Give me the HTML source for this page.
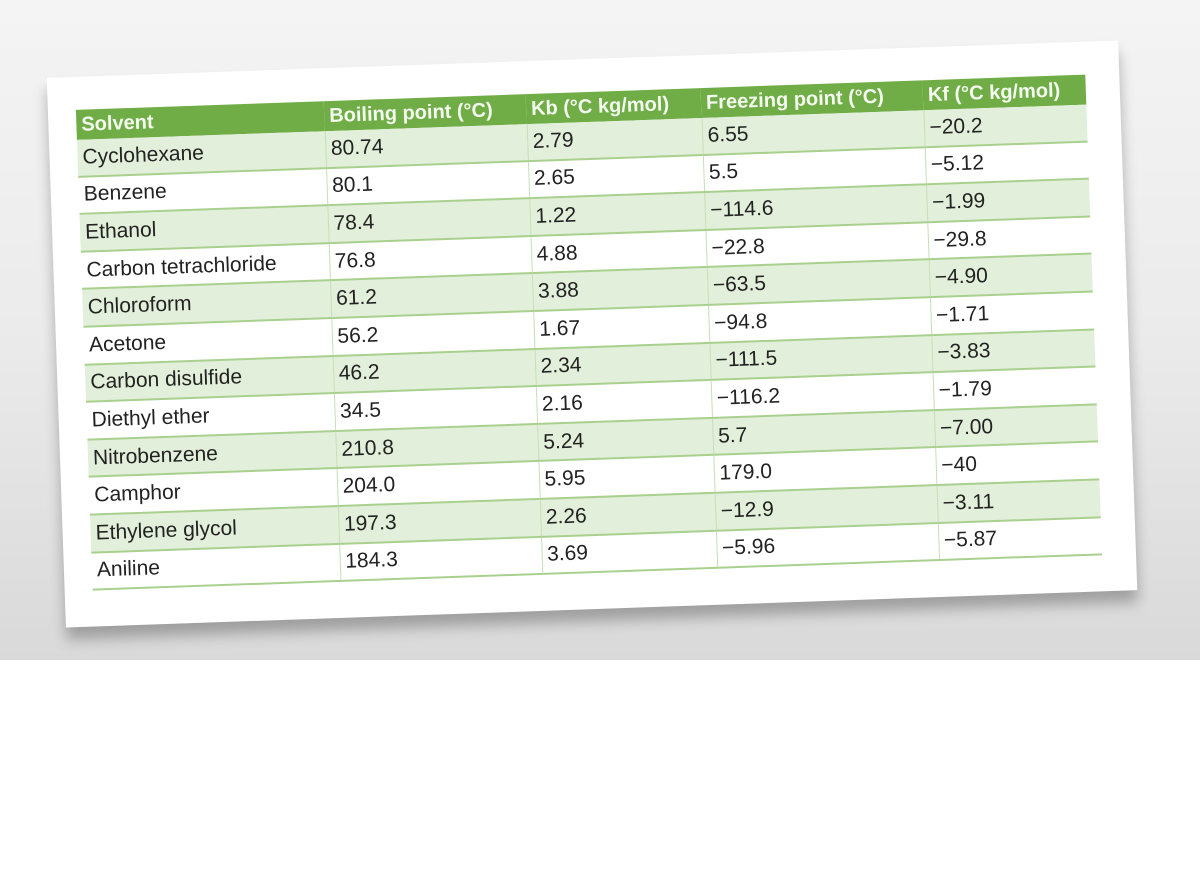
<!DOCTYPE html>
<html><head><meta charset="utf-8"><style>
html,body{margin:0;padding:0;width:1200px;height:881px;overflow:hidden;background:#fff;}
.bg{position:absolute;left:0;top:0;width:1200px;height:660px;background:linear-gradient(#f4f4f4 0%,#ebebeb 50%,#d9d9d9 100%);}
.card{position:absolute;left:56px;top:59px;width:1072px;height:550px;background:#fff;transform:rotate(-2deg);box-shadow:0 12px 14px rgba(0,0,0,0.28);}
table{position:absolute;left:28px;top:33px;border-collapse:collapse;font-family:"Liberation Sans",sans-serif;font-size:21px;color:#222;}
td{height:35.6px;padding:0 0 0 5px;border-bottom:2px solid #a9d08e;border-left:1px solid #c6dfb5;vertical-align:middle;}
td:first-child{border-left:none;}
tr.h td{background:#70ad47;color:#f4faef;font-weight:bold;height:30px;border:none;font-size:20px;}
tr.g td{background:#e2efda;}
</style></head><body>
<div class="bg"></div>
<div class="card">
<table>
<colgroup><col style="width:248px"><col style="width:202px"><col style="width:175px"><col style="width:222px"><col style="width:163px"></colgroup>
<tr class="h"><td>Solvent</td><td>Boiling point (°C)</td><td>Kb (°C kg/mol)</td><td>Freezing point (°C)</td><td>Kf (°C kg/mol)</td></tr>
<tr class="g"><td>Cyclohexane</td><td>80.74</td><td>2.79</td><td>6.55</td><td>−20.2</td></tr>
<tr><td>Benzene</td><td>80.1</td><td>2.65</td><td>5.5</td><td>−5.12</td></tr>
<tr class="g"><td>Ethanol</td><td>78.4</td><td>1.22</td><td>−114.6</td><td>−1.99</td></tr>
<tr><td>Carbon tetrachloride</td><td>76.8</td><td>4.88</td><td>−22.8</td><td>−29.8</td></tr>
<tr class="g"><td>Chloroform</td><td>61.2</td><td>3.88</td><td>−63.5</td><td>−4.90</td></tr>
<tr><td>Acetone</td><td>56.2</td><td>1.67</td><td>−94.8</td><td>−1.71</td></tr>
<tr class="g"><td>Carbon disulfide</td><td>46.2</td><td>2.34</td><td>−111.5</td><td>−3.83</td></tr>
<tr><td>Diethyl ether</td><td>34.5</td><td>2.16</td><td>−116.2</td><td>−1.79</td></tr>
<tr class="g"><td>Nitrobenzene</td><td>210.8</td><td>5.24</td><td>5.7</td><td>−7.00</td></tr>
<tr><td>Camphor</td><td>204.0</td><td>5.95</td><td>179.0</td><td>−40</td></tr>
<tr class="g"><td>Ethylene glycol</td><td>197.3</td><td>2.26</td><td>−12.9</td><td>−3.11</td></tr>
<tr><td>Aniline</td><td>184.3</td><td>3.69</td><td>−5.96</td><td>−5.87</td></tr>
</table>
</div>
</body></html>
